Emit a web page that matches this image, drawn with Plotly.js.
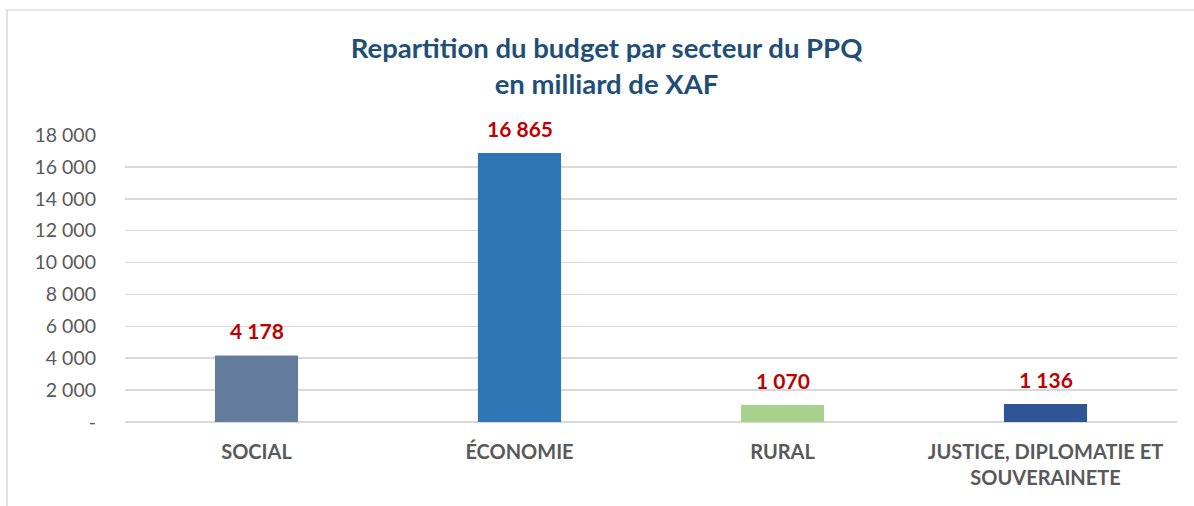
<!DOCTYPE html>
<html>
<head>
<meta charset="utf-8">
<script src="https://cdn.plot.ly/plotly-3.0.1.min.js"></script>
<style>
  html, body { margin: 0; padding: 0; background: #ffffff; }
  #chart { width: 1194px; height: 506px; }
</style>
</head>
<body>
<div id="chart"></div>
<script>
const categories = ["SOCIAL", "ÉCONOMIE", "RURAL", "JUSTICE, DIPLOMATIE ET<br>SOUVERAINETE"];
const values = [4178, 16865, 1070, 1136];
const barColors = ["#647C9B", "#2E75B6", "#A9D18E", "#2F5597"];
const tickVals = [0, 2000, 4000, 6000, 8000, 10000, 12000, 14000, 16000, 18000];
const tickText = ["-", "2 000", "4 000", "6 000", "8 000", "10 000", "12 000", "14 000", "16 000", "18 000"];

function fmt(v) {
  return String(v).replace(/\B(?=(\d{3})+(?!\d))/g, " ");
}

const FONT = "Lato, 'Open Sans', sans-serif";

const trace = {
  type: "bar",
  x: categories,
  y: values,
  marker: { color: barColors },
  width: 0.316,
  hoverinfo: "skip"
};

const annotations = categories.map((c, i) => ({
  x: c, y: values[i], xref: "x", yref: "y",
  text: "<b>" + fmt(values[i]) + "</b>",
  showarrow: false, yanchor: "bottom", yshift: 10,
  font: { family: FONT, size: 21, color: "#C00000" }
}));

const layout = {
  width: 1194, height: 506,
  margin: { l: 125, r: 17, t: 135, b: 84 },
  paper_bgcolor: "#ffffff",
  plot_bgcolor: "#ffffff",
  showlegend: false,
  bargap: 0.684,
  title: {
    text: "<b>Repartition du budget par secteur du PPQ<br>en milliard de XAF</b>",
    font: { family: FONT, size: 27.5, color: "#1F4E79" },
    x: 0.508, xref: "container", xanchor: "center",
    y: 0.885, yref: "container", yanchor: "top"
  },
  xaxis: {
    type: "category",
    tickfont: { family: FONT, size: 20, color: "#595959", weight: "bold" },
    showgrid: false, zeroline: false, showline: false, ticks: "",
    ticklabelstandoff: 16
  },
  yaxis: {
    range: [0, 18000],
    tickvals: tickVals, ticktext: tickText,
    tickfont: { family: FONT, size: 19.5, color: "#595959" },
    showgrid: true, gridcolor: "#D9D9D9", gridwidth: 1.5,
    zeroline: true, zerolinecolor: "#D9D9D9", zerolinewidth: 1.5,
    showline: false, ticks: "",
    ticklabelstandoff: 28
  },
  annotations: annotations,
  shapes: [{
    type: "rect", xref: "paper", yref: "paper",
    x0: (7 - 125) / 1052, x1: (1300 - 125) / 1052,
    y0: (422 - 520) / 287, y1: (422 - 10) / 287,
    line: { color: "#D9D9D9", width: 1.5 }, fillcolor: "rgba(0,0,0,0)", layer: "below"
  }]
};

Plotly.newPlot("chart", [trace], layout, { displayModeBar: false, staticPlot: true });
</script>
</body>
</html>
